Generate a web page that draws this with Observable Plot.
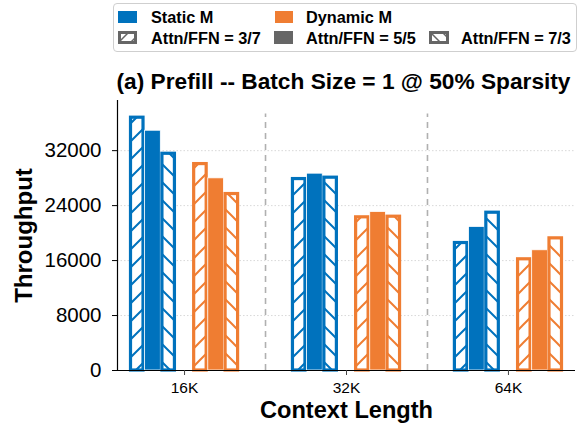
<!DOCTYPE html>
<html>
<head>
<meta charset="utf-8">
<script src="https://cdn.jsdelivr.net/npm/d3@7"></script>
<script src="https://cdn.jsdelivr.net/npm/@observablehq/plot@0.6"></script>
<style>
  body { margin: 0; background: #fff; font-family: "Liberation Sans", Arial, sans-serif; }
  #wrap { position: relative; width: 579px; height: 423px; overflow: hidden; }
  #legend { position: relative; width: 579px; height: 56px; }
  #legbox { position: absolute; left: 113px; top: 3px; width: 464px; height: 49px; border: 1.5px solid #cfcfcf; border-radius: 4px; box-sizing: border-box; }
  .sw { position: absolute; }
  .lt { position: absolute; font-weight: bold; font-size: 16.3px; line-height: 1; transform: translateY(-50%); white-space: nowrap; color: #000; }
  #defs { position: absolute; width: 0; height: 0; }
</style>
</head>
<body>
<div id="wrap">
  <svg id="defs" width="0" height="0"><defs id="patterns"></defs></svg>
  <div id="legend"><div id="legbox"></div></div>
  <div id="chart"></div>
</div>
<script>
// ---- data ----
const contexts = ["16K", "32K", "64K"];
const models = ["Static M", "Dynamic M"];
const ratios = ["3/7", "5/5", "7/3"];
// values ordered: context (16K, 32K, 64K) x ratio (3/7, 5/5, 7/3)
const staticM = [37000, 34900, 31750, 28070, 28650, 28270, 18760, 20900, 23170];
const dynamicM = [30250, 27970, 25890, 22500, 23080, 22590, 16390, 17500, 19440];
const yTicks = [0, 8000, 16000, 24000, 32000];
const titleText = "(a) Prefill -- Batch Size = 1 @ 50% Sparsity";
const xLabel = "Context Length";
const yLabel = "Throughput";

// ---- styles ----
const colors = {"Static M": "#0072BD", "Dynamic M": "#EF7D32"};
const legendGray = "#666666";
const modelKey = {"Static M": "s", "Dynamic M": "d"};
const ratioKey = {"3/7": "f", "5/5": "n", "7/3": "b"};

// hatch patterns
function patternSVG(id, color, dir, size, sw) {
  const s = size, h = s / 4;
  const d = dir === "f"
    ? `M${-h},${h} L${h},${-h} M0,${s} L${s},0 M${s - h},${s + h} L${s + h},${s - h}`
    : `M${-h},${s - h} L${h},${s + h} M0,0 L${s},${s} M${s - h},${-h} L${s + h},${h}`;
  return `<pattern id="${id}" patternUnits="userSpaceOnUse" width="${s}" height="${s}">
    <rect width="${s}" height="${s}" fill="white"/>
    <path d="${d}" stroke="${color}" stroke-width="${sw}" fill="none"/></pattern>`;
}
let defs = "";
for (const m of models) for (const dir of ["f", "b"]) defs += patternSVG(`h-${modelKey[m]}-${dir}`, colors[m], dir, 18, 2);
defs += patternSVG("h-g-f", legendGray, "f", 12, 1.5);
defs += patternSVG("h-g-b", legendGray, "b", 12, 1.5);
document.getElementById("patterns").innerHTML = defs;

// ---- legend ----
const legend = document.getElementById("legend");
function addItem(x, y, w, h, label, tx, ty, kind, color) {
  const svg = document.createElementNS("http://www.w3.org/2000/svg", "svg");
  svg.setAttribute("class", "sw");
  svg.setAttribute("width", w); svg.setAttribute("height", h);
  svg.style.left = x + "px"; svg.style.top = y + "px";
  if (kind === "solid") {
    svg.innerHTML = `<rect x="0" y="0" width="${w}" height="${h}" fill="${color}"/>`;
  } else {
    svg.innerHTML = `<rect x="1.5" y="1.5" width="${w - 3}" height="${h - 3}" fill="url(#h-g-${kind})" stroke="${color}" stroke-width="3"/>`;
  }
  legend.appendChild(svg);
  const span = document.createElement("span");
  span.className = "lt"; span.textContent = label;
  span.style.left = tx + "px"; span.style.top = ty + "px";
  legend.appendChild(span);
}
addItem(118, 11, 19, 12, models[0], 151, 17, "solid", colors[models[0]]);
addItem(275, 11, 18, 12, models[1], 306, 17, "solid", colors[models[1]]);
addItem(118, 31, 19, 13, `Attn/FFN = ${ratios[0]}`, 151, 38, "f", legendGray);
addItem(274, 31, 19, 13, `Attn/FFN = ${ratios[1]}`, 306, 38, "solid", legendGray);
addItem(429, 31, 20, 13, `Attn/FFN = ${ratios[2]}`, 461, 38, "b", legendGray);

// ---- chart ----
const GROUP = 0.195, PITCH = 0.097;
const rows = [];
models.forEach((m, mi) => {
  const vals = mi === 0 ? staticM : dynamicM;
  contexts.forEach((c, ci) => {
    ratios.forEach((r, ri) => {
      const center = ci + (mi === 0 ? -GROUP : GROUP) + (ri - 1) * PITCH;
      rows.push({model: m, context: c, ratio: r, value: vals[ci * 3 + ri],
                 x1: center - PITCH / 2, x2: center + PITCH / 2});
    });
  });
});
const xDomain = [-0.414, contexts.length - 1 + 0.414];
const yMax = 39300;
const separators = contexts.slice(1).map((_, i) => i + 0.5);

const barMarks = [];
for (const m of models) {
  for (const r of ratios) {
    const data = rows.filter(d => d.model === m && d.ratio === r);
    if (r === "5/5") {
      barMarks.push(Plot.rect(data, {x1: "x1", x2: "x2", y1: 0, y2: "value",
        fill: colors[m], stroke: "white", strokeWidth: 0.8}));
    } else {
      barMarks.push(Plot.rect(data, {x1: "x1", x2: "x2", y1: 0, y2: "value",
        fill: `url(#h-${modelKey[m]}-${ratioKey[r]})`, stroke: colors[m], strokeWidth: 3.2,
        insetLeft: 1.6, insetRight: 1.6, insetTop: 1.4}));
    }
  }
}

const chart = Plot.plot({
  width: 579, height: 367,
  marginLeft: 117, marginRight: 4, marginTop: 44, marginBottom: 53,
  x: {domain: xDomain, axis: null},
  y: {domain: [0, yMax], axis: null},
  style: {fontFamily: "'Liberation Sans', Arial, sans-serif", background: "white", color: "black"},
  marks: [
    Plot.ruleY(yTicks.slice(1), {stroke: "#cfcfcf", strokeWidth: 0.8, strokeDasharray: "1.5,2"}),
    Plot.ruleX(separators, {y1: 0, y2: yMax * 0.95, stroke: "#b0b0b0", strokeWidth: 1.6, strokeDasharray: "6,5"}),
    ...barMarks,
    Plot.ruleY([0], {stroke: "black", strokeWidth: 1.2}),
    Plot.ruleX([xDomain[0]], {stroke: "black", strokeWidth: 1.2}),
    Plot.axisY({ticks: yTicks, tickSize: 5, tickPadding: 11, fontSize: 20.5, tickFormat: d => String(d), label: null}),
    Plot.axisX({ticks: d3.range(contexts.length), tickSize: 5, tickPadding: 6, fontSize: 15.5,
      tickFormat: i => contexts[i], stroke: "#444", label: null}),
    Plot.text([titleText], {frameAnchor: "top", dy: -12, dx: -3, lineAnchor: "bottom", fontSize: 22.7, fontWeight: "bold"}),
    Plot.text([xLabel], {frameAnchor: "bottom", dy: 47.5, lineAnchor: "bottom", fontSize: 23.6, fontWeight: "bold"}),
    Plot.text([yLabel], {frameAnchor: "left", dx: -93, rotate: -90, textAnchor: "middle", lineAnchor: "middle", fontSize: 24, fontWeight: "bold"})
  ]
});
document.getElementById("chart").appendChild(chart);
</script>
</body>
</html>
